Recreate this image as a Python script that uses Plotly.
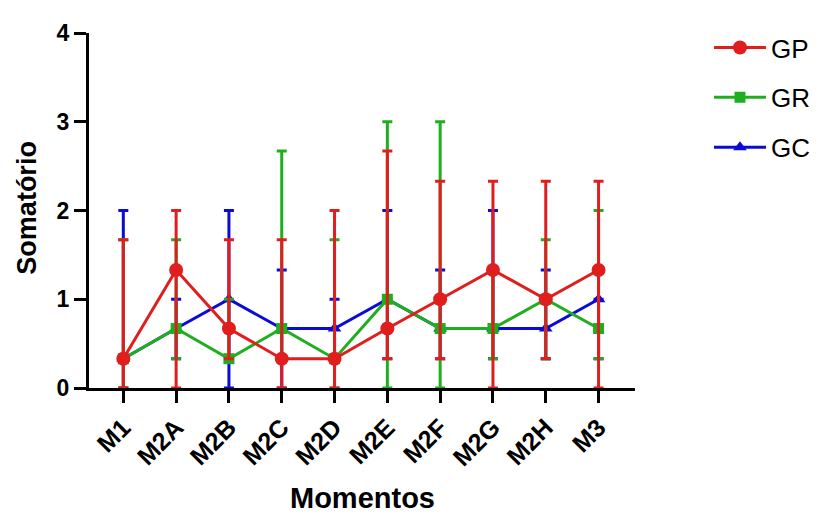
import plotly.graph_objects as go

categories = ["M1", "M2A", "M2B", "M2C", "M2D", "M2E", "M2F", "M2G", "M2H", "M3"]

gp_vals = [0.33, 1.33, 0.67, 0.33, 0.33, 0.67, 1.0, 1.33, 1.0, 1.33]
gp_upper = [1.67, 2.0, 1.67, 1.67, 2.0, 2.67, 2.33, 2.33, 2.33, 2.33]
gp_lower = [0.0, 0.0, 0.33, 0.0, 0.0, 0.33, 0.33, 0.0, 0.33, 0.0]

gr_vals = [0.33, 0.67, 0.33, 0.67, 0.33, 1.0, 0.67, 0.67, 1.0, 0.67]
gr_upper = [1.67, 1.67, 1.0, 2.67, 1.67, 3.0, 3.0, 1.33, 1.67, 2.0]
gr_lower = [0.0, 0.33, 0.33, 0.33, 0.0, 0.0, 0.0, 0.33, 0.33, 0.33]

gc_vals = [0.33, 0.67, 1.0, 0.67, 0.67, 1.0, 0.67, 0.67, 0.67, 1.0]
gc_upper = [2.0, 1.0, 2.0, 1.33, 1.0, 2.0, 1.33, 2.0, 1.33, 1.0]
gc_lower = [0.0, 0.33, 0.0, 0.0, 0.33, 0.33, 0.33, 0.33, 0.33, 0.33]

y_ticks = [0, 1, 2, 3, 4]

FONT = "Liberation Sans, Arial, sans-serif"

# drawn bottom to top: GC, GR, GP ; legend order GP, GR, GC
series = [
    ("GC", gc_vals, gc_upper, gc_lower, "#0B0BD8", "triangle-up", 12, 3),
    ("GR", gr_vals, gr_upper, gr_lower, "#1EAF1E", "square", 11, 2),
    ("GP", gp_vals, gp_upper, gp_lower, "#E01E1E", "circle", 14, 1),
]

fig = go.Figure()
for name, vals, up, lo, color, sym, size, rank in series:
    fig.add_trace(go.Scatter(
        x=categories, y=vals, name=name, legendgroup=name, legendrank=rank,
        mode="lines+markers",
        line=dict(color=color, width=3),
        marker=dict(symbol=sym, size=size, color=color),
        error_y=dict(type="data", symmetric=False,
                     array=[u - v for u, v in zip(up, vals)],
                     arrayminus=[v - l for v, l in zip(vals, lo)],
                     color=color, thickness=3, width=5),
        cliponaxis=False,
    ))

fig.update_layout(
    width=827, height=509,
    margin=dict(l=81, r=200, t=14, b=129),
    paper_bgcolor="white", plot_bgcolor="white",
    font=dict(family=FONT, color="black"),
    showlegend=True,
    legend=dict(x=1.1355, y=1.025, xanchor="left", yanchor="top",
                traceorder="grouped", font=dict(size=26, color="black", family=FONT),
                itemwidth=52, tracegroupgap=13, bgcolor="rgba(0,0,0,0)"),
    xaxis=dict(
        range=[-0.65, 9.69], showgrid=False, zeroline=False,
        showline=True, linecolor="black", linewidth=3,
        ticks="outside", ticklen=12, tickwidth=3, tickcolor="black",
        tickangle=-45,
        tickfont=dict(size=25, family=FONT, weight="bold", color="black"),
    ),
    yaxis=dict(
        range=[0, 4], tickvals=y_ticks, showgrid=False, zeroline=False,
        showline=True, linecolor="black", linewidth=3,
        ticks="outside", ticklen=12, tickwidth=3, tickcolor="black",
        tickfont=dict(size=23, family=FONT, weight="bold", color="black"),
    ),
    annotations=[
        dict(text="<b>Momentos</b>", xref="paper", yref="paper", x=0.5, y=-0.311,
             xanchor="center", yanchor="middle", showarrow=False,
             font=dict(size=29, family=FONT, color="black")),
        dict(text="<b>Somatório</b>", xref="paper", yref="paper", x=-0.1136, y=0.508,
             xanchor="center", yanchor="middle", showarrow=False, textangle=-90,
             font=dict(size=27, family=FONT, color="black")),
    ],
)

fig.write_html("out.html")
